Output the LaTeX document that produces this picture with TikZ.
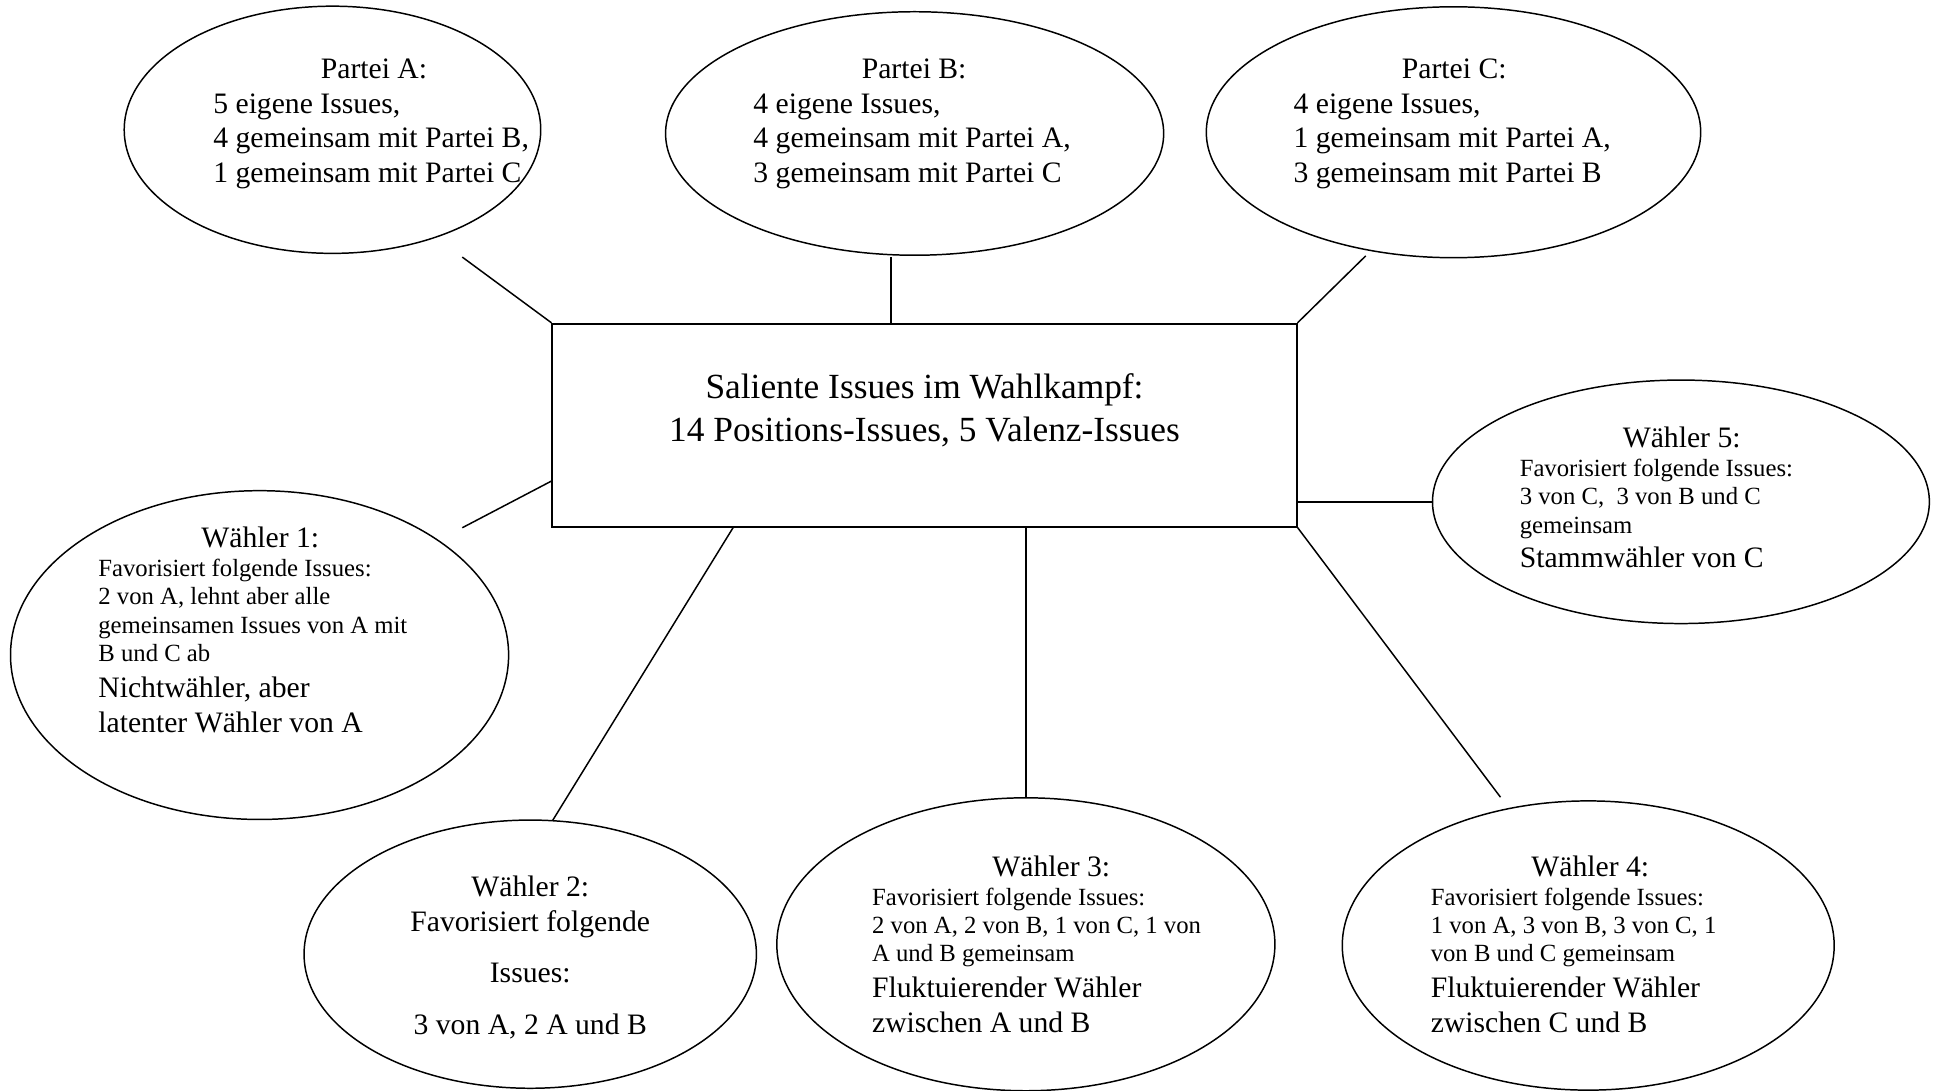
\documentclass[tikz,border=0pt]{standalone}
\usepackage{fontspec}
\setmainfont{Liberation Serif}
\usetikzlibrary{positioning,shapes.geometric}
\newcommand\kleintext{\fontsize{10}{11.5}\selectfont}
\newcommand\grosstext{\fontsize{12}{14.5}\selectfont}
\tikzset{
  blase/.style={draw,ellipse,inner sep=0pt},
  textblock/.style={anchor=north west,inner sep=0pt,align=flush left,text width=#1,
    font={\fontsize{12}{14}\selectfont\parindent=0pt}},
}

\begin{document}
\begin{tikzpicture}[x=0.5pt,y=-0.5pt,line width=0.6pt]
  \useasboundingbox (0,0) rectangle (1568,882);
  % ellipses: name, centre, width, height
  \foreach \ename/\ex/\ey/\ew/\eh in {
      pa/269/105/168.5pt/100pt, pb/740/108/201.5pt/98.5pt, pc/1176/107/200pt/101.5pt,
      w1/210/530/201.5pt/133pt, w2/429/772/183pt/108.5pt, w3/830/764/201.5pt/118.5pt,
      w4/1285/765/199pt/117pt, w5/1360/406/201pt/98.5pt} {
    \node[blase,minimum width=\ew,minimum height=\eh] (\ename) at (\ex,\ey) {};
  }
  % centre box
  \node[draw,line width=0.8pt,minimum width=301pt,minimum height=82pt,inner sep=0pt] (sal) at (748,344) {};
  \node[font=\fontsize{14.3}{17.3}\selectfont,align=center] (saltext) at (748,332)
    {Saliente Issues im Wahlkampf:\\14 Positions-Issues, 5 Valenz-Issues};

  % parties
  \node[textblock=130pt] (patext) at (172,47) {{\centering Partei A:\par}5 eigene Issues,\par
    4 gemeinsam mit Partei B,\par 1 gemeinsam mit Partei C};
  \node[textblock=130pt] (pbtext) at (609,47) {{\centering Partei B:\par}4 eigene Issues,\par
    4 gemeinsam mit Partei A,\par 3 gemeinsam mit Partei C};
  \node[textblock=130pt] (pctext) at (1046,47) {{\centering Partei C:\par}4 eigene Issues,\par
    1 gemeinsam mit Partei A,\par 3 gemeinsam mit Partei B};

  % voters
  \node[textblock=131pt] (w1text) at (79,426) {{\centering Wähler 1:\par}\kleintext
    Favorisiert folgende Issues:\par 2 von A, lehnt aber alle\par
    gemeinsamen Issues von A mit\par B und C ab\par
    \grosstext Nichtwähler, aber\par latenter Wähler von A};
  \node[anchor=north,inner sep=0pt,align=center,font=\fontsize{12}{14}\selectfont] (w2text) at (429,708)
    {Wähler 2:\\Favorisiert folgende\\[7pt]Issues:\\[7pt]3 von A, 2 A und B};
  \node[textblock=145pt] (w3text) at (705,692) {{\centering Wähler 3:\par}\kleintext
    Favorisiert folgende Issues:\par 2 von A, 2 von B, 1 von C, 1 von\par A und B gemeinsam\par
    \grosstext Fluktuierender Wähler\par zwischen A und B};
  \node[textblock=129pt] (w4text) at (1157,692) {{\centering Wähler 4:\par}\kleintext
    Favorisiert folgende Issues:\par 1 von A, 3 von B, 3 von C, 1\par von B und C gemeinsam\par
    \grosstext Fluktuierender Wähler\par zwischen C und B};
  \node[textblock=131pt] (w5text) at (1229,345) {{\centering Wähler 5:\par}\kleintext
    Favorisiert folgende Issues:\par 3 von C,\ \ 3 von B und C\par gemeinsam\par
    \grosstext Stammwähler von C};

  % connectors
  \coordinate (pa-fuss) at (374,208);
  \coordinate (pb-fuss) at (721,208);
  \coordinate (pc-fuss) at (1105,207);
  \coordinate (w1-kopf) at (374,427);
  \coordinate (w2-kopf) at (447,664);
  \coordinate (w4-kopf) at (1214,645);
  \draw (sal.north west) -- (pa-fuss);
  \draw (pb-fuss) -- (pb-fuss |- sal.north);
  \draw (sal.north east) -- (pc-fuss);
  \draw ([yshift=-64pt]sal.north west) -- (w1-kopf);
  \draw ([xshift=73.5pt]sal.south west) -- (w2-kopf);
  \draw (w3.north |- sal.south) -- (w3.north);
  \draw (sal.south east) -- (w4-kopf);
  \draw (sal.east |- w5.west) -- (w5.west);
\end{tikzpicture}
\end{document}
